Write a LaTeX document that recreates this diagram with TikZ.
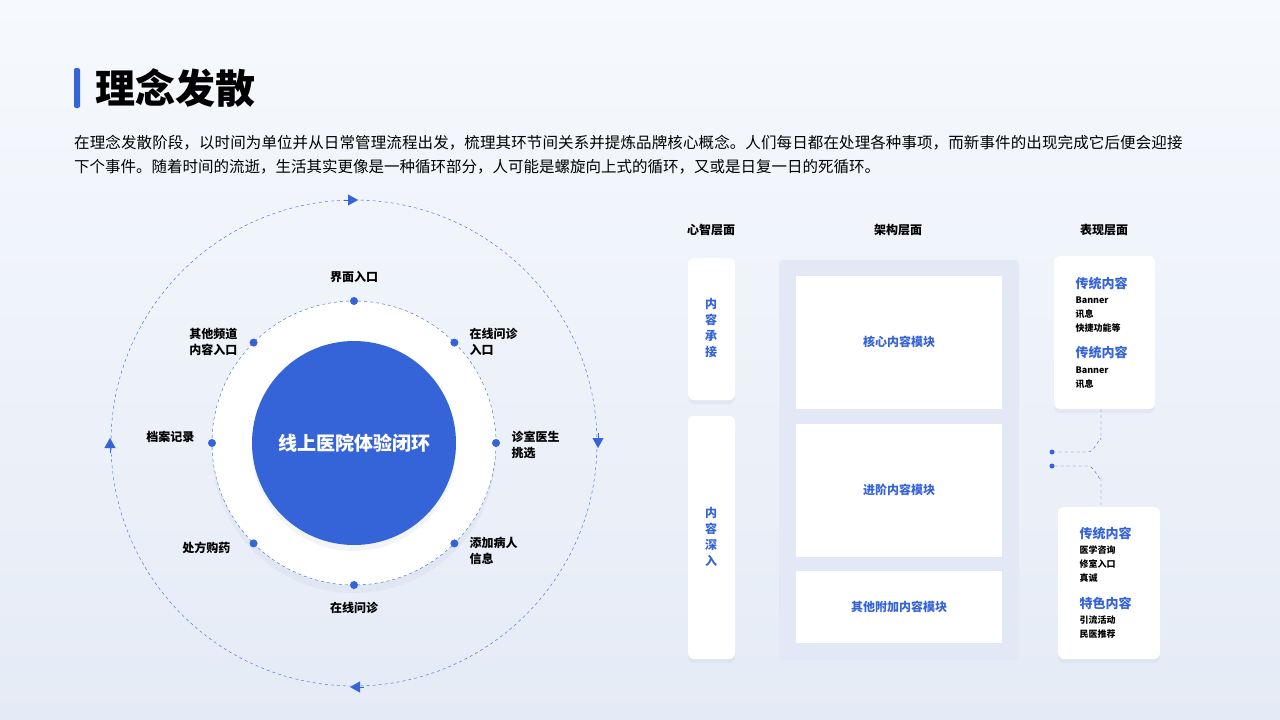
\documentclass[tikz,border=0pt]{standalone}
\usepackage{fontspec}
\setmainfont{Noto Sans CJK SC}
\XeTeXlinebreaklocale "zh"
\XeTeXlinebreakskip = 0pt plus 1pt
\usetikzlibrary{positioning, shadows, arrows.meta}
\definecolor{brand}{HTML}{3563D8}
\definecolor{panel}{HTML}{E2E8F6}
\definecolor{bgtop}{HTML}{F6F9FD}
\definecolor{bgbot}{HTML}{E5EBF6}
\definecolor{shade}{HTML}{9AA8CC}
\begin{document}
\begin{tikzpicture}[
    x=1pt, y=-1pt,
    font=\fontsize{12}{16}\selectfont\bfseries,
    card/.style={
      draw=none,
      fill=white,
      rounded corners=6pt,
      drop shadow={opacity=0.12, fill=shade, shadow xshift=0pt, shadow yshift=-4pt}
    },
    box/.style={
      fill=white,
      text=brand,
      align=center
    },
    dot/.style={
      circle,
      fill=brand,
      inner sep=0pt,
      minimum size=8pt
    },
    stage/.style={
      align=left,
      font=\fontsize{12}{16}\selectfont\bfseries
    },
    vtext/.style={
      text=brand,
      align=center,
      font=\fontsize{12}{16}\selectfont\bfseries
    },
    head/.style={
      text=brand,
      font=\fontsize{13}{17}\selectfont\bfseries,
      anchor=west
    },
    item/.style={
      font=\fontsize{9}{14}\selectfont\bfseries,
      anchor=west
    },
    link/.style={dashed, brand, thin},
    tip/.style={-{Triangle[length=10pt, width=11pt]}, brand, thin},
]

% Background
\shade[top color=bgtop, bottom color=bgbot] (0,0) rectangle (1280,720);
\useasboundingbox (0,0) rectangle (1280,720);

% Title
\fill[brand, rounded corners=2pt] (74,68) rectangle (80,108);
\node[anchor=west, font=\fontsize{40}{44}\selectfont\bfseries] (title) at (92,88) {理念发散};
\node[anchor=north west, align=left, inner sep=0pt, text width=1112pt,
  font=\fontsize{15.5}{24}\selectfont\mdseries] (intro) at (74,135)
  {在理念发散阶段，以时间为单位并从日常管理流程出发，梳理其环节间关系并提炼品牌核心概念。人们每日都在处理各种事项，而新事件的出现完成它后便会迎接下个事件。随着时间的流逝，生活其实更像是一种循环部分，人可能是螺旋向上式的循环，又或是日复一日的死循环。};

% Loop
\coordinate (c) at (354,443);
\draw[link] (c) circle (243pt);
\draw[tip] (344,200) -- (358,200);
\draw[tip] (598,433) -- (598,448);
\draw[tip] (364,687) -- (350,687);
\draw[tip] (110,453) -- (110,438);
\node[circle, fill=white, minimum size=284pt, inner sep=0pt,
  drop shadow={opacity=0.1, fill=shade, shadow xshift=0pt, shadow yshift=-8pt}] (ring) at (c) {};
\draw[link] (c) circle (142pt);
\node[circle, fill=brand, minimum size=204pt, inner sep=0pt, text=white,
  font=\fontsize{19}{22}\selectfont\bfseries,
  drop shadow={opacity=0.12, fill=shade, shadow xshift=0pt, shadow yshift=-6pt}] (core) at (c) {线上医院体验闭环};

\foreach \a/\n in {90/top, 45/tr, 0/r, -45/br, -90/bot, -135/bl, 180/l, 135/tl}
  \node[dot] (d-\n) at ([shift={(\a:142pt)}]c) {};

\node[stage, anchor=center] (s-top) at (354,277) {界面入口};
\node[stage, anchor=west] (s-tr) at (466,342) {在线问诊\\入口};
\node[stage, anchor=west] (s-r) at (508,445) {诊室医生\\挑选};
\node[stage, anchor=west] (s-br) at (466,551) {添加病人\\信息};
\node[stage, anchor=center] (s-bot) at (354,608) {在线问诊};
\node[stage, anchor=east] (s-bl) at (234,548) {处方购药};
\node[stage, anchor=east] (s-l) at (198,437) {档案记录};
\node[stage, anchor=east] (s-tl) at (241,342) {其他频道\\内容入口};

% Column heads
\node (h-mind) at (711,230) {心智层面};
\node (h-arch) at (898,230) {架构层面};
\node (h-show) at (1104,230) {表现层面};

% Mind layer
\fill[card] (688,258) rectangle (735,400);
\fill[card] (688,416) rectangle (735,659);
\node[vtext] (m-1) at (711,328) {内\\容\\承\\接};
\node[vtext] (m-2) at (711,537) {内\\容\\深\\入};

% Architecture layer
\fill[panel, rounded corners=4pt] (779,260) rectangle (1019,660);
\node[box, minimum width=206pt, minimum height=133pt] (a-1) at (899,342) {核心内容模块};
\node[box, minimum width=206pt, minimum height=133pt] (a-2) at (899,490) {进阶内容模块};
\node[box, minimum width=206pt, minimum height=72pt] (a-3) at (899,607) {其他附加内容模块};

% Presentation layer
\fill[card] (1054,256) rectangle (1155,409);
\node[head] (p-1) at (1072,284) {传统内容};
\node[item] at (1072,300) {Banner};
\node[item] at (1072,314) {讯息};
\node[item] at (1072,328) {快捷功能等};
\node[head] (p-2) at (1072,353) {传统内容};
\node[item] at (1072,370) {Banner};
\node[item] at (1072,384) {讯息};

\fill[card] (1058,507) rectangle (1160,659);
\node[head] (p-3) at (1076,534) {传统内容};
\node[item] at (1076,550) {医学咨询};
\node[item] at (1076,564) {修室入口};
\node[item] at (1076,578) {真诚};
\node[head] (p-4) at (1076,603) {特色内容};
\node[item] at (1076,620) {引流活动};
\node[item] at (1076,634) {民医推荐};

% Links
\coordinate (up-end) at (1101,409);
\coordinate (low-end) at (1101,507);
\node[dot, minimum size=5pt] (k-1) at (1052,452) {};
\node[dot, minimum size=5pt] (k-2) at (1052,466) {};
\draw[link] (up-end) -- (1101,440) to[out=90, in=0] (1088,452) -- (k-1);
\draw[link] (k-2) -- (1088,466) to[out=0, in=-90] (1101,478) -- (low-end);

\end{tikzpicture}
\end{document}
